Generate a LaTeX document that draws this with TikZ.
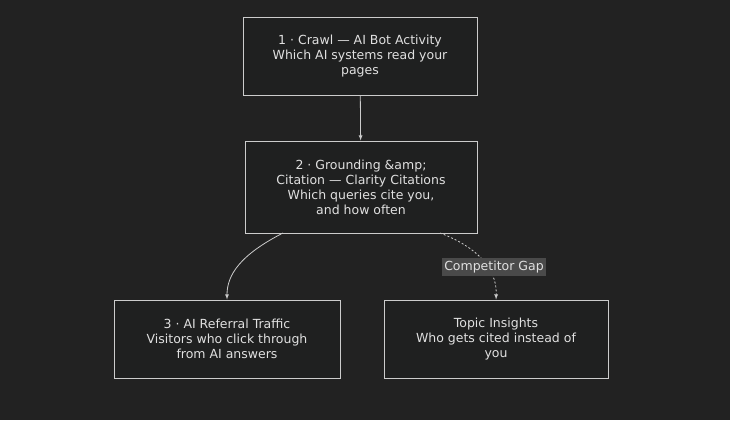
\documentclass[tikz,border=0pt]{standalone}
\usepackage{fontspec}
\setmainfont{DejaVu Sans}
\usetikzlibrary{positioning}
\definecolor{bgdark}{HTML}{222222}
\definecolor{boxfill}{HTML}{1F2020}
\definecolor{linegrey}{HTML}{CCCCCC}
\definecolor{labelbg}{HTML}{4A4A4A}
\tikzset{
  stage/.style={draw=linegrey, fill=boxfill, line width=1pt, text=white!88!black,
    align=center, font=\fontsize{12.5}{15}\selectfont, inner sep=0pt},
  flow/.style={draw=linegrey, line width=0.8pt, -latex},
}
\begin{document}
\begin{tikzpicture}[x=1pt,y=-1pt]
\fill[bgdark] (0,0) rectangle (730,420);
\useasboundingbox (0,0) rectangle (730,420);

% Stage boxes
\node[stage, minimum width=234, minimum height=77] (crawl) at (360,56.5)
  {1 · Crawl — AI Bot Activity\\Which AI systems read your\\pages};
\node[stage, minimum width=232, minimum height=92] (cite) at (361,187)
  {2 · Grounding \&amp;\\Citation — Clarity Citations\\Which queries cite you,\\and how often};
\node[stage, minimum width=226, minimum height=78] (referral) at (227,339)
  {3 · AI Referral Traffic\\Visitors who click through\\from AI answers};
\node[stage, minimum width=224, minimum height=78] (topics) at (496,339)
  {Topic Insights\\Who gets cited instead of\\you};

% Connectors
\draw[flow] (crawl) -- (cite);
\coordinate (c1) at (283,233);
\coordinate (c2) at (440,233);
\draw[flow] (c1) .. controls (240,255) and (227,275) .. (referral.north);
\draw[flow, dash pattern=on 2pt off 2pt] (c2) .. controls (485,250) and (497,275) .. (topics.north);
\node[fill=labelbg, text=white!88!black, font=\fontsize{12.5}{15}\selectfont,
  inner sep=2.5pt] (gap) at (494,267) {Competitor Gap};
\end{tikzpicture}
\end{document}
